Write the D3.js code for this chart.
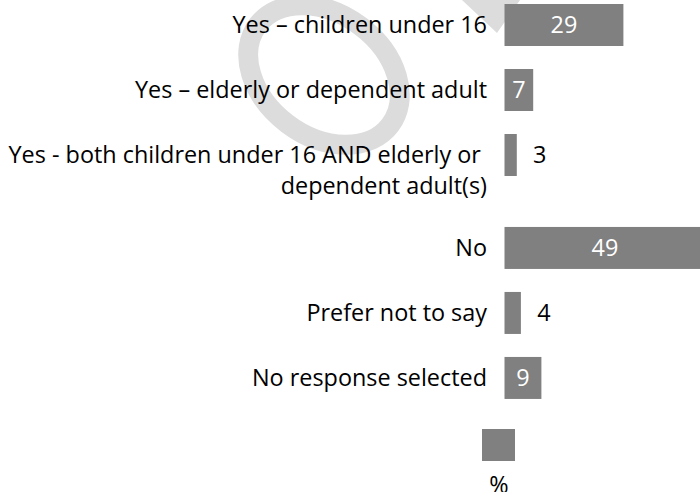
<!DOCTYPE html>
<html>
<head>
<meta charset="utf-8">
<script src="https://cdn.jsdelivr.net/npm/d3@7"></script>
<style>
  html, body { margin: 0; padding: 0; background: #fff; }
  svg { display: block; }
  text { font-family: "Open Sans", Lato, sans-serif; }
</style>
</head>
<body>
<svg id="chart" width="700" height="492"></svg>
<script>
// Category labels, one entry per line of text
const categories = [
  ["Yes \u2013 children under 16"],
  ["Yes \u2013 elderly or dependent adult"],
  ["Yes - both children under 16 AND elderly or\u00a0", "dependent adult(s)"],
  ["No"],
  ["Prefer not to say"],
  ["No response selected"]
];
const values = [29, 7, 3, 49, 4, 9];
const legendLabel = "%";

const W = 700, H = 492;
const fontSize = 23.4;
const lineStep = 31;          // distance between wrapped label lines
const extraPerLine = 0.43;    // extra row units taken by each additional label line

const svg = d3.select("#chart");

// Faint "O" watermark sitting behind the chart
const wm = svg.append("g").attr("fill", "none");
wm.append("ellipse")
  .attr("cx", 324).attr("cy", 75)
  .attr("rx", 83).attr("ry", 61)
  .attr("transform", "rotate(37 324 75)")
  .attr("stroke", "#dcdcdc")
  .attr("stroke-width", 20);
wm.append("path")
  .attr("d", "M462,0 L520,0 L497,33 Z")
  .attr("fill", "#dcdcdc");

// Row positions: wrapped labels push following rows down
const rowUnits = [];
let acc = 0;
categories.forEach((lines, i) => {
  rowUnits.push(acc);
  acc += 1 + extraPerLine * (lines.length - 1);
});

const y = d3.scaleLinear().domain([0, 1]).range([25, 90]);
const barH = 42;
const x = d3.scaleLinear().domain([0, 50]).range([504.5, 709.5]);

const rows = categories.map((lines, i) => ({ lines, value: values[i], u: rowUnits[i] }));

const g = svg.append("g");

g.selectAll("rect.bar")
  .data(rows)
  .join("rect")
  .attr("class", "bar")
  .attr("x", x(0))
  .attr("y", d => y(d.u) - barH / 2)
  .attr("width", d => x(d.value) - x(0))
  .attr("height", barH)
  .attr("fill", "#808080");

// Category labels, right aligned against the bars
const capShift = 7.8;
const labels = g.selectAll("text.cat")
  .data(rows)
  .join("text")
  .attr("class", "cat")
  .attr("text-anchor", "end")
  .attr("font-size", fontSize)
  .attr("fill", "#000")
  .style("white-space", "pre");
labels.selectAll("tspan")
  .data(d => d.lines.map((t, k) => ({ t, k, u: d.u })))
  .join("tspan")
  .attr("x", 487)
  .attr("y", d => y(d.u) + capShift + d.k * lineStep)
  .text(d => d.t);

// Value labels: centred in white when they fit, otherwise black beside the bar
const fits = d => x(d.value) - x(0) > 25;
g.selectAll("text.val")
  .data(rows)
  .join("text")
  .attr("class", "val")
  .attr("font-size", fontSize)
  .attr("text-anchor", "middle")
  .attr("fill", d => fits(d) ? "#fff" : "#000")
  .attr("x", d => fits(d) ? (x(0) + Math.min(x(d.value), x(50))) / 2 : x(d.value) + 23)
  .attr("y", d => y(d.u) + capShift)
  .text(d => d.value);

// Legend
const legend = svg.append("g");
legend.append("rect")
  .attr("x", 482).attr("y", 429)
  .attr("width", 33).attr("height", 32)
  .attr("fill", "#808080");
legend.append("text")
  .attr("x", 499).attr("y", 493)
  .attr("text-anchor", "middle")
  .attr("font-size", fontSize)
  .attr("fill", "#000")
  .text(legendLabel);
</script>
</body>
</html>
